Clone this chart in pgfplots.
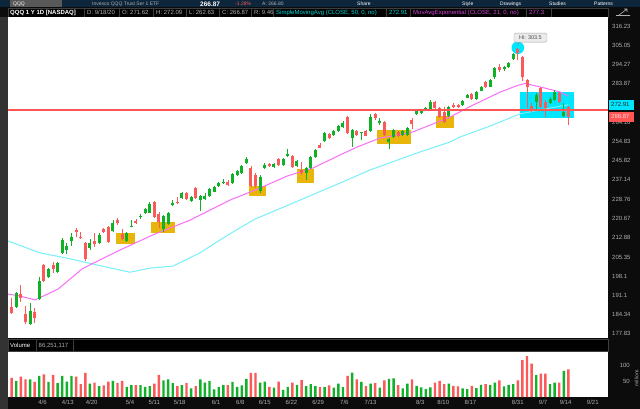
\documentclass[border=0pt]{standalone}
\usepackage{pgfplots}
\pgfplotsset{compat=1.18}
\usepackage{pgfplotstable}
\usepackage{fontspec}
\setmainfont{Liberation Sans}

\definecolor{upg}{RGB}{16,176,40}
\definecolor{dnr}{RGB}{250,90,90}
\definecolor{smac}{RGB}{120,240,250}
\definecolor{emam}{RGB}{250,110,250}
\definecolor{gold}{RGB}{232,182,10}
\definecolor{cyanbox}{RGB}{0,230,255}
\definecolor{level}{RGB}{255,85,85}
\definecolor{tickg}{RGB}{175,175,175}
\definecolor{bg}{RGB}{12,12,12}
\definecolor{navy}{RGB}{14,38,60}
\definecolor{sep}{RGB}{62,62,62}
\definecolor{hdrcyan}{RGB}{0,215,215}
\definecolor{hdrmag}{RGB}{215,70,215}

% daily QQQ candles: bar index, open, high, low, close, volume (millions)
\pgfplotstableread{
i O H L C V
0 186.9 190.2 184.6 185.0 60
1 187.0 192.3 186.5 192.0 50
2 191.6 194.9 188.8 190.2 64
3 184.6 187.4 181.2 181.8 55
4 181.2 188.4 180.8 185.6 55
5 185.3 186.7 181.5 183.2 47
6 189.8 197.8 189.5 196.3 66
7 202.3 202.6 196.0 196.3 71
8 197.8 201.1 197.4 200.8 47
9 202.3 203.4 199.3 200.8 69
10 199.6 203.4 199.3 203.0 43
11 206.9 212.8 206.5 212.0 66
12 208.0 210.8 206.5 209.6 48
13 211.6 214.8 209.6 213.2 66
14 215.9 216.7 213.2 215.2 64
15 213.2 215.2 212.4 212.8 40
16 210.8 211.2 203.8 204.6 75
17 208.8 212.4 208.0 210.8 42
18 211.6 214.8 209.2 210.4 45
19 210.8 214.8 210.4 214.0 34
20 216.4 216.7 214.8 215.2 36
21 217.2 217.6 210.8 211.2 48
22 215.5 220.0 215.2 218.8 50
23 220.0 220.8 218.0 218.8 44
24 214.4 216.4 212.0 212.4 50
25 211.6 215.2 211.2 214.8 32
26 217.2 220.0 217.0 217.6 37
27 219.6 220.4 218.4 218.8 37
28 221.3 222.5 220.4 221.7 37
29 223.0 225.0 222.5 224.6 32
30 223.0 227.6 222.8 226.7 34
31 227.6 228.0 220.9 221.3 42
32 222.5 223.4 216.8 219.2 69
33 216.4 222.1 215.2 221.7 52
34 218.4 223.4 218.0 223.0 55
35 226.3 228.4 225.9 227.1 43
36 227.6 229.7 226.7 227.1 34
37 229.3 231.9 228.8 231.4 37
38 231.4 231.9 228.4 228.8 43
39 228.0 230.1 227.6 229.7 27
40 233.6 234.0 228.8 229.3 34
41 228.4 230.6 223.8 230.1 55
42 228.8 231.4 228.6 230.1 45
43 230.1 233.6 229.7 233.2 50
44 231.9 234.5 231.7 234.0 24
45 234.5 236.2 234.0 235.8 32
46 235.8 237.5 235.3 236.2 37
47 236.2 237.1 234.5 234.9 37
48 235.8 240.2 235.3 239.8 47
49 239.3 241.6 238.9 241.1 32
50 240.2 243.9 239.8 243.4 36
51 244.8 247.5 244.4 246.6 57
52 242.5 243.4 234.0 234.5 75
53 239.3 240.2 233.6 234.5 75
54 232.3 239.3 231.4 238.5 45
55 242.5 244.8 242.1 243.9 48
56 244.3 244.8 243.0 243.4 32
57 243.0 244.8 242.5 244.3 29
58 246.6 247.0 243.4 243.9 48
59 243.9 247.1 243.4 246.6 22
60 248.0 251.3 247.5 248.9 32
61 248.0 248.5 242.5 243.0 45
62 243.4 246.1 243.0 245.7 37
63 241.6 245.2 239.3 240.2 53
64 240.2 243.0 237.1 242.5 34
65 242.5 248.0 242.1 247.5 40
66 247.5 251.3 247.1 250.8 34
67 253.2 254.1 251.5 251.7 31
68 255.0 259.4 254.6 258.9 31
69 258.4 258.9 256.0 256.7 36
70 257.9 260.4 257.4 259.9 29
71 259.9 262.8 259.4 262.3 42
72 262.0 264.8 261.3 264.0 31
73 266.9 267.3 258.3 258.7 66
74 256.3 260.7 252.2 260.4 76
75 259.9 260.4 257.4 257.9 55
76 258.7 259.6 255.5 259.4 47
77 259.9 260.4 257.2 257.5 34
78 260.0 268.1 259.6 266.9 42
79 268.3 268.8 265.5 266.3 43
80 264.0 266.2 262.8 265.0 29
81 264.5 264.9 257.5 257.9 52
82 254.6 256.3 251.1 255.9 57
83 257.1 260.7 256.3 260.4 58
84 259.4 259.9 257.0 257.4 37
85 257.9 260.4 257.4 259.9 27
86 257.9 261.7 257.4 261.2 42
87 265.5 266.0 260.8 263.3 55
88 268.1 270.3 267.8 269.8 35
89 268.6 270.8 268.3 270.3 30
90 270.3 271.8 269.8 271.3 25
91 270.6 275.4 270.3 274.5 30
92 274.2 274.7 270.8 271.1 45
93 271.1 271.6 266.4 266.9 50
94 269.0 271.8 263.8 264.5 40
95 267.3 272.3 266.8 271.8 42
96 272.8 273.9 271.1 271.9 35
97 272.8 273.5 271.3 271.9 33
98 272.8 275.6 272.3 275.0 27
99 276.6 278.4 276.2 277.9 25
100 278.5 279.0 275.4 275.9 35
101 275.9 280.0 275.6 279.7 28
102 280.0 282.7 279.8 282.3 38
103 284.9 285.3 281.8 282.3 40
104 282.3 286.3 282.1 285.8 38
105 287.2 292.9 286.6 292.5 45
106 293.1 294.4 290.2 291.2 52
107 291.7 293.4 290.9 292.8 33
108 292.8 295.6 292.4 295.0 38
109 297.1 300.5 296.8 299.9 40
110 302.7 303.5 296.7 300.4 52
111 298.6 299.0 285.2 287.2 115
112 285.8 286.4 271.3 282.3 128
113 272.3 273.9 269.3 270.3 104
114 274.5 278.9 270.3 277.9 68
115 281.6 282.1 271.1 271.9 73
116 274.5 275.4 266.7 271.1 73
117 274.0 276.9 273.3 276.1 40
118 275.4 280.6 274.9 279.7 45
119 279.2 279.7 274.0 274.5 45
120 267.3 273.8 266.6 269.4 82
121 271.62 272.09 262.63 266.87 86.25
}\qqq

% SimpleMovingAvg(50) as drawn
\pgfplotstableread{
i v
-0.8 211.6
6.15 206.9
12.0 204.9
18.5 202.3
25.7 199.6
30.1 201.1
35.1 201.9
40.9 206.9
45.3 212.0
49.2 216.4
52.9 220.4
62.7 228.4
71.4 235.8
77.9 241.6
88.8 249.9
95.3 254.6
97.5 257.0
104.0 262.3
110.5 268.3
116.0 270.8
121 272.91
}\sma

% MovAvgExponential(21) as drawn
\pgfplotstableread{
i v
-0.8 191.6
1.8 190.9
5.1 189.5
10.1 193.4
15.3 200.8
19.6 204.6
24.0 208.4
30.7 214.0
38.8 220.0
47.5 228.4
54.0 233.6
59.9 238.9
65.5 242.5
71.4 248.5
75.1 252.2
80.1 256.5
86.6 258.9
91.0 262.8
95.3 266.8
100.3 272.8
106.2 279.5
110.0 283.0
111.6 284.0
115.5 281.8
119.2 279.5
121 277.3
}\ema

\newcommand\hdr{\fontsize{6}{7}\selectfont}
\pgfplotsset{candle/.style={only marks, mark=*, mark options={draw opacity=0, fill opacity=0}, forget plot}}

\begin{document}
\begin{tikzpicture}[x=1pt,y=1pt]
% frame
\fill[bg] (0,0) rectangle (640,-409);
\fill[navy] (0,0) rectangle (640,-7.5);
\fill[black!80] (0,-17) rectangle (8,-409);

% toolbar
\fill[black!65] (10,-0.5) rectangle (62,-7);
\begin{scope}[every node/.style={anchor=west, inner sep=0, font=\fontsize{5}{5.5}\selectfont}]
\node[text=white] at (13,-3.8) {QQQ};
\node[text=tickg] at (92,-3.8) {Invesco QQQ Trust Ser 1 ETF};
\node[text=white, font=\fontsize{6.5}{7}\selectfont\bfseries] at (200,-3.8) {266.87};
\node[text=dnr] at (235,-3.8) {-1.28\%};
\node[text=tickg] at (262,-3.8) {A: 266.80};
\node[text=white] at (357,-3.8) {Share};
\node[text=white] at (462,-3.8) {Style};
\node[text=white] at (500,-3.8) {Drawings};
\node[text=white] at (549,-3.8) {Studies};
\node[text=white] at (594,-3.8) {Patterns};
\end{scope}

% header row
\fill[black] (8,-8) rectangle (608,-17);
\draw[sep, line width=0.6pt] (8,-8) rectangle (608,-17);
\foreach \x in {84,119,153,186,219,251,273,386,410,526,551}
  \draw[sep, line width=0.6pt] (\x,-8) -- (\x,-17);
\begin{scope}[every node/.style={anchor=west, inner sep=0, font=\hdr}]
\node[text=white, font=\hdr\bfseries] at (10,-12.5) {QQQ 1 Y 1D [NASDAQ]};
\node[text=tickg] at (87,-12.5) {D: 9/18/20};
\node[text=tickg] at (122,-12.5) {O: 271.62};
\node[text=tickg] at (156,-12.5) {H: 272.09};
\node[text=tickg] at (189,-12.5) {L: 262.63};
\node[text=tickg] at (222,-12.5) {C: 266.87};
\node[text=tickg] at (254,-12.5) {R: 9.46};
\node[text=hdrcyan] at (276,-12.5) {SimpleMovingAvg (CLOSE, 50, 0, no)};
\node[text=hdrcyan] at (389,-12.5) {272.91};
\node[text=hdrmag] at (413,-12.5) {MovAvgExponential (CLOSE, 21, 0, no)};
\node[text=hdrmag] at (529,-12.5) {277.3};
\end{scope}
\draw[tickg, line width=0.6pt] (619,-15) -- (627,-9) (624,-9) -- (627,-9) -- (627,-12) (616,-15.5) -- (630,-15.5);

% price panel
\begin{axis}[
  at={(8pt,-338pt)}, anchor=south west,
  width=600pt, height=321pt, scale only axis,
  xmin=-0.8, xmax=129.6,
  ymode=log, ymin=176.5, ymax=321.6,
  axis background/.style={fill=white},
  axis line style={draw=none},
  xtick=\empty,
  ytick={177.83,184.34,191.1,198.1,205.35,212.88,220.67,228.76,237.14,245.82,254.83,264.16,283.87,294.27,305.05,316.23},
  yticklabels={177.83,184.34,191.1,198.1,205.35,212.88,220.67,228.76,237.14,245.82,254.83,264.16,283.87,294.27,305.05,316.23},
  yticklabel pos=right,
  major tick length=0pt,
  yticklabel style={font=\hdr, text=tickg, anchor=west, inner sep=0pt, xshift=4pt},
]
% highlight boxes
\fill[gold] (22.7,214.6) rectangle (26.8,210.3);
\fill[gold] (30.3,219.3) rectangle (35.6,214.8);
\fill[gold] (51.6,234.6) rectangle (55.3,230.1);
\fill[gold] (62.0,241.9) rectangle (65.7,235.6);
\fill[gold] (79.3,260.4) rectangle (86.8,253.6);
\fill[gold] (92.2,267.3) rectangle (96.2,261.2);
\fill[cyanbox] (110.5,279.5) rectangle (122.2,266.3);
\fill[cyanbox] (110,303.6) circle[radius=6.3pt];

\addplot[smac, line width=1pt, line join=round] table[x=i, y=v] {\sma};
\addplot[emam, line width=1pt, line join=round] table[x=i, y=v] {\ema};

% wicks
\addplot[candle, restrict expr to domain={\thisrow{C}-\thisrow{O}}{0:1000},
  error bars/.cd, y dir=plus, y explicit, error mark=none,
  error bar style={line width=0.8pt, upg}]
  table[x=i, y=L, y error plus expr=\thisrow{H}-\thisrow{L}] {\qqq};
\addplot[candle, restrict expr to domain={\thisrow{C}-\thisrow{O}}{-1000:0},
  error bars/.cd, y dir=plus, y explicit, error mark=none,
  error bar style={line width=0.8pt, dnr}]
  table[x=i, y=L, y error plus expr=\thisrow{H}-\thisrow{L}] {\qqq};
% bodies
\addplot[candle, restrict expr to domain={\thisrow{C}-\thisrow{O}}{0:1000},
  error bars/.cd, y dir=plus, y explicit, error mark=none,
  error bar style={line width=3pt, upg}]
  table[x=i, y=O, y error plus expr={max(\thisrow{C}-\thisrow{O},0.35)}] {\qqq};
\addplot[candle, restrict expr to domain={\thisrow{C}-\thisrow{O}}{-1000:0},
  error bars/.cd, y dir=plus, y explicit, error mark=none,
  error bar style={line width=3pt, dnr}]
  table[x=i, y=C, y error plus expr={max(\thisrow{O}-\thisrow{C},0.35)}] {\qqq};

\addplot[level, line width=1.4pt] coordinates {(-0.8,270.3) (129.6,270.3)};
\end{axis}

% high callout
\draw[black!45, line width=0.5pt] (519,-42) -- (517.5,-45);
\node[draw=black!35, fill=black!8, rounded corners=1.5pt, inner sep=1pt, text=black!70,
  font=\fontsize{5.5}{6}\selectfont, minimum width=33pt, minimum height=9pt] at (530.5,-37.7) {Hi: 303.5};

% last-value tags on the price scale
\fill[cyanbox] (609,-99.8) rectangle (634,-109.8);
\node[text=black!85, font=\hdr, inner sep=0, anchor=west] at (611,-104.8) {272.91};
\fill[level] (609,-111.8) rectangle (634,-121.8);
\node[text=white!85!red, font=\hdr, inner sep=0, anchor=west] at (611,-116.8) {266.87};

% volume header
\fill[black] (8,-339.5) rectangle (608,-351);
\draw[sep, line width=0.6pt] (8,-339.5) rectangle (608,-351);
\draw[sep, line width=0.6pt] (36,-339.5) -- (36,-351) (73,-339.5) -- (73,-351);
\node[anchor=west, inner sep=0, font=\hdr, text=white] at (10,-345.3) {Volume};
\node[anchor=west, inner sep=0, font=\hdr, text=tickg] at (38.5,-345.3) {86,251,117};

% volume panel
\begin{axis}[
  at={(8pt,-397pt)}, anchor=south west,
  width=600pt, height=45pt, scale only axis,
  xmin=-0.8, xmax=129.6, ymin=0, ymax=140.6,
  axis background/.style={fill=white},
  axis line style={draw=none},
  major tick length=0pt,
  xtick={6.7,12.2,17.4,25.7,31.0,36.5,44.4,49.7,55.0,60.8,66.6,72.3,78.0,88.8,93.8,99.7,110.0,115.5,120.4,126.3},
  xticklabels={4/6,4/13,4/20,5/4,5/11,5/18,6/1,6/8,6/15,6/22,6/29,7/6,7/13,8/3,8/10,8/17,8/31,9/7,9/14,9/21},
  xticklabel style={font=\hdr, text=tickg, anchor=north, inner sep=0pt, yshift=-2.5pt},
  ytick={50,100}, yticklabels={50,100},
  yticklabel pos=right,
  yticklabel style={font=\hdr, text=tickg, anchor=east, inner sep=0pt, xshift=22pt},
]
\addplot[ybar, bar width=2.4pt, bar shift=0pt, fill=upg, draw=none,
  restrict expr to domain={\thisrow{C}-\thisrow{O}}{0:1000}] table[x=i, y=V] {\qqq};
\addplot[ybar, bar width=2.4pt, bar shift=0pt, fill=dnr, draw=none,
  restrict expr to domain={\thisrow{C}-\thisrow{O}}{-1000:0}] table[x=i, y=V] {\qqq};
\end{axis}
\node[rotate=90, font=\fontsize{5}{6}\selectfont, text=tickg, inner sep=0] at (636.5,-378) {millions};
\end{tikzpicture}
\end{document}
